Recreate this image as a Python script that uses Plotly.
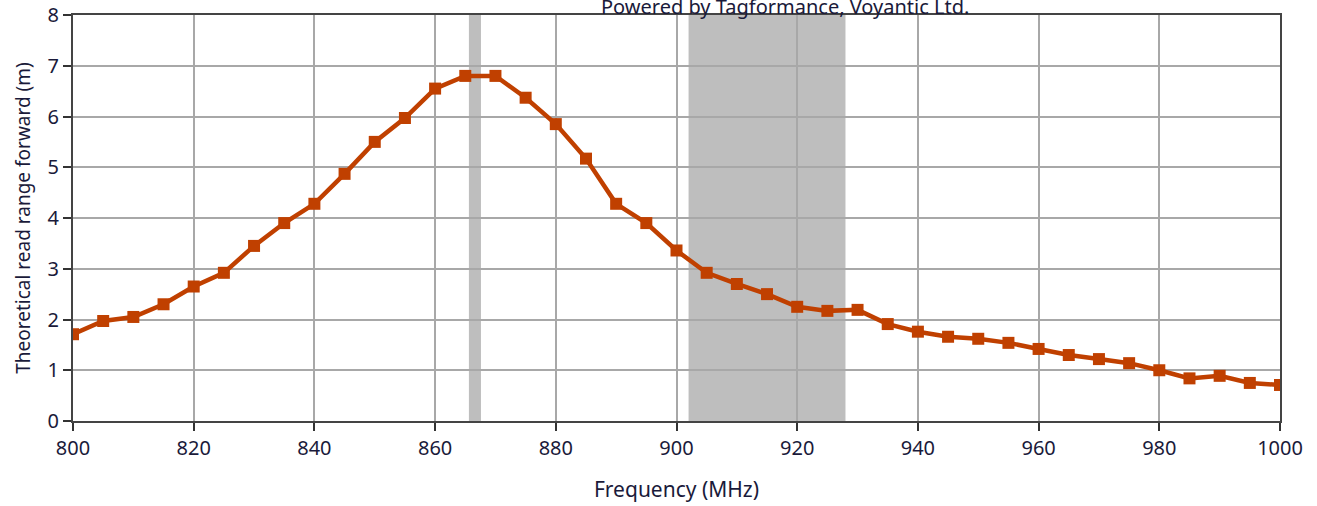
import plotly.graph_objects as go

# Read range vs frequency
freq_mhz = list(range(800, 1001, 5))
read_range_m = [
    1.71, 1.97, 2.05, 2.30, 2.65, 2.92, 3.45, 3.90, 4.28, 4.87,
    5.50, 5.97, 6.55, 6.80, 6.80, 6.37, 5.85, 5.17, 4.28, 3.90,
    3.36, 2.92, 2.70, 2.50, 2.25, 2.17, 2.19, 1.91, 1.76, 1.66,
    1.62, 1.54, 1.42, 1.30, 1.22, 1.14, 1.00, 0.84, 0.89, 0.75,
    0.71,
]

# Regulatory bands shaded in grey (ETSI, FCC)
bands = [(865.6, 867.6), (902, 928)]

x_ticks = list(range(800, 1001, 20))
y_ticks = list(range(0, 9))

font = "Noto Sans, DejaVu Sans, sans-serif"
ink = "#1a1a3a"
fig = go.Figure()

for lo, hi in bands:
    fig.add_vrect(x0=lo, x1=hi, fillcolor="#bebebe", opacity=1,
                  line_width=0, layer="below")

fig.add_trace(go.Scatter(
    x=freq_mhz,
    y=read_range_m,
    mode="lines+markers",
    line=dict(color="#c04000", width=4.5),
    marker=dict(symbol="square", size=12, color="#c04000"),
    showlegend=False,
))

# title text sits partly outside the page, as in the reference
fig.add_annotation(
    text="Powered by Tagformance, Voyantic Ltd.",
    xref="paper", yref="paper", x=0.59, y=1.0,
    xanchor="center", yanchor="middle", yshift=9,
    showarrow=False, font=dict(family=font, size=20, color=ink),
)

axis_common = dict(
    showgrid=True, gridcolor="#a8a8a8", gridwidth=2,
    ticks="outside", ticklen=8, tickwidth=2, tickcolor="#333",
    showline=True, linecolor="#444", linewidth=2, mirror=True,
    tickfont=dict(family=font, size=20, color=ink),
    zeroline=False, automargin=False, ticklabeloverflow="allow",
)

fig.update_xaxes(
    range=[800, 1000], tickvals=x_ticks,
    title=dict(text="Frequency (MHz)", font=dict(family=font, size=21, color=ink),
               standoff=22),
    **axis_common,
)
fig.update_yaxes(
    range=[0, 8], tickvals=y_ticks,
    title=dict(text="Theoretical read range forward (m)",
               font=dict(family=font, size=19, color=ink), standoff=12),
    **axis_common,
)

fig.update_layout(
    width=1317, height=506,
    margin=dict(l=73, r=37, t=15, b=85),
    plot_bgcolor="white", paper_bgcolor="white",
)

# drop the default 8px body margin so the figure fills the window exactly
fig.write_html("out.html", config={"displayModeBar": False},
               post_script="document.body.style.margin='0';document.body.style.overflow='hidden';")
